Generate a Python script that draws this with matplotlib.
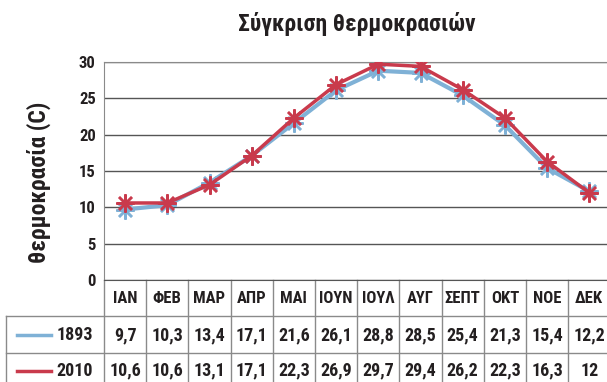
import matplotlib
matplotlib.use("Agg")
import matplotlib.pyplot as plt

months = ["ΙΑΝ", "ΦΕΒ", "ΜΑΡ", "ΑΠΡ", "ΜΑΙ", "ΙΟΥΝ", "ΙΟΥΛ", "ΑΥΓ", "ΣΕΠΤ", "ΟΚΤ", "ΝΟΕ", "ΔΕΚ"]
temps_1893 = [9.7, 10.3, 13.4, 17.1, 21.6, 26.1, 28.8, 28.5, 25.4, 21.3, 15.4, 12.2]
temps_2010 = [10.6, 10.6, 13.1, 17.1, 22.3, 26.9, 29.7, 29.4, 26.2, 22.3, 16.3, 12]
series_names = ["1893", "2010"]
yticks = [0, 5, 10, 15, 20, 25, 30]

BLUE = "#7fb1d6"
RED = "#c93a4c"
INK = "#231f20"
EDGE = "#8a8a8a"

plt.rcParams["font.family"] = ["Roboto Condensed", "DejaVu Sans"]
plt.rcParams["font.weight"] = "bold"


def fmt(v):
    # greek decimal comma, integers without decimals
    if float(v).is_integer():
        return str(int(v))
    return f"{v:.1f}".replace(".", ",")


fig = plt.figure(figsize=(6.07, 3.82), dpi=100)
ax = fig.add_axes([104 / 607, 102 / 382, 506.4 / 607, 218 / 382])

x = list(range(len(months)))
star = (8, 2, 0)
ax.plot(x, temps_1893, color=BLUE, lw=3, marker=star, ms=13, mew=1.8, zorder=3)
ax.plot(x, temps_2010, color=RED, lw=2.5, marker=star, ms=13, mew=1.8, zorder=4)

ax.set_xlim(-0.5, len(months) - 0.5)
ax.set_ylim(0, 30)
ax.set_yticks(yticks)
ax.set_xticks([])
ax.tick_params(axis="y", length=0, pad=6, labelsize=12, labelcolor=INK)
for t in ax.get_yticklabels():
    t.set_fontweight("bold")
ax.yaxis.grid(True, color="#555555", lw=1)
ax.set_axisbelow(True)
for side in ["left", "top"]:
    ax.spines[side].set_color(EDGE)
ax.spines["bottom"].set_color("#555555")
ax.spines["right"].set_visible(False)

ax.set_title("Σύγκριση θερμοκρασιών", fontsize=17, fontweight="bold", color=INK, pad=22)
ax.set_ylabel("θερμοκρασία (C)", fontsize=17, fontweight="bold", color=INK)
ax.yaxis.set_label_coords(-0.105, 0.45)

# data table below the plot
trans = ax.get_xaxis_transform()
h_head = 36 / 218
h_row = 37 / 218
y_rows = [-h_head, -h_head - h_row, -h_head - 2 * h_row]
label_left = -98 / 506.4

for k in range(-1, len(months)):
    ax.plot([k + 0.5, k + 0.5], [0, -0.6], transform=trans, color=EDGE, lw=1, clip_on=False)
for yy in y_rows[:2]:
    ax.plot([label_left, 1.01], [yy, yy], transform=ax.transAxes, color=EDGE, lw=1, clip_on=False)
ax.plot([label_left, label_left], [y_rows[0], -0.6], transform=ax.transAxes, color=EDGE, lw=1, clip_on=False)

for i, m in enumerate(months):
    ax.text(i, -0.085, m, transform=trans, ha="center", va="center",
            fontsize=12, fontweight="bold", color=INK)

rows = [temps_1893, temps_2010]
colors = [BLUE, RED]
row_centers = [-(335 - 280) / 218, -(370.5 - 280) / 218]
for vals, name, col, yc in zip(rows, series_names, colors, row_centers):
    for i, v in enumerate(vals):
        ax.text(i, yc, fmt(v), transform=trans, ha="center", va="center",
                fontsize=13, fontweight="bold", color=INK)
    ax.plot([(17 - 104) / 506.4, (51 - 104) / 506.4], [yc, yc], transform=ax.transAxes,
            color=col, lw=2.5, clip_on=False)
    ax.text(-11 / 506.4, yc, name, transform=ax.transAxes, ha="right", va="center",
            fontsize=13, fontweight="bold", color=INK)

fig.savefig("out.png", dpi=100)
